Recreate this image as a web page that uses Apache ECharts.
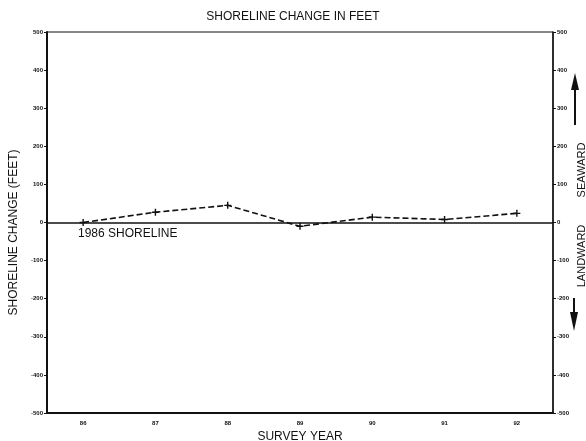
<!DOCTYPE html>
<html>
<head>
<meta charset="utf-8">
<script src="https://cdn.jsdelivr.net/npm/echarts@6/dist/echarts.min.js"></script>
<style>
  html, body { margin: 0; padding: 0; background: #fff; }
  #chart { width: 586px; height: 441px; }
</style>
</head>
<body>
<div id="chart"></div>
<script>
const years = ['86', '87', '88', '89', '90', '91', '92'];
const change = [0, 27, 45, -10, 14, 8, 24];
const yTicks = [-500, 500, 100];

const myChart = echarts.init(document.getElementById('chart'), null, { renderer: 'canvas' });

const tickLabel = { fontSize: 6, fontWeight: 'bold', color: '#111', fontFamily: 'Liberation Sans' };
const font = 'Liberation Sans';

const option = {
  animation: false,
  backgroundColor: '#fff',
  title: {
    text: 'SHORELINE CHANGE IN FEET',
    left: 'center',
    top: 6,
    textStyle: { fontSize: 12, fontWeight: 'normal', color: '#111', fontFamily: font }
  },
  grid: {
    left: 47,
    right: 33,
    top: 32,
    bottom: 28,
    outerBoundsMode: 'none',
    containLabel: false,
    show: true,
    borderColor: '#111',
    borderWidth: 1
  },
  xAxis: {
    type: 'category',
    data: years,
    boundaryGap: true,
    name: 'SURVEY YEAR',
    nameLocation: 'middle',
    nameGap: 15,
    nameTextStyle: { fontSize: 12, color: '#111', fontFamily: font },
    axisLine: { onZero: false, lineStyle: { color: '#111', width: 2 } },
    axisTick: { alignWithLabel: true, length: 3, lineStyle: { color: '#111' } },
    axisLabel: Object.assign({ margin: 7 }, tickLabel),
    splitLine: { show: false }
  },
  yAxis: [
    {
      type: 'value',
      min: yTicks[0],
      max: yTicks[1],
      interval: yTicks[2],
      name: 'SHORELINE CHANGE (FEET)',
      nameLocation: 'middle',
      nameGap: 27,
      nameTextStyle: { fontSize: 12, color: '#111', fontFamily: font, padding: [0, 0, 0, -20] },
      axisLine: { show: true, lineStyle: { color: '#111', width: 2 } },
      axisTick: { show: true, length: 3, lineStyle: { color: '#111' } },
      axisLabel: Object.assign({ margin: 4 }, tickLabel),
      splitLine: { show: false }
    },
    {
      type: 'value',
      position: 'right',
      min: yTicks[0],
      max: yTicks[1],
      interval: yTicks[2],
      axisLine: { show: true, lineStyle: { color: '#111', width: 1.5 } },
      axisTick: { show: true, length: 3, lineStyle: { color: '#111' } },
      axisLabel: Object.assign({ margin: 4 }, tickLabel),
      splitLine: { show: false }
    }
  ],
  series: [
    {
      name: 'Shoreline change',
      type: 'line',
      data: change,
      symbol: 'path://M4,0H6V4H10V6H6V10H4V6H0V4H4Z',
      symbolSize: 7,
      itemStyle: { color: '#111' },
      lineStyle: { color: '#111', width: 1.6, type: [6, 3] },
      markLine: {
        silent: true,
        symbol: 'none',
        label: { show: false },
        lineStyle: { color: '#111', width: 1.5, type: 'solid' },
        data: [{ yAxis: 0 }]
      }
    }
  ],
  graphic: [
    {
      type: 'text',
      left: 78,
      top: 228,
      style: { text: '1986 SHORELINE', fontSize: 12, fill: '#111', fontFamily: font }
    },
    {
      type: 'text',
      x: 582,
      y: 170,
      rotation: Math.PI / 2,
      style: { text: 'SEAWARD', fontSize: 11, fill: '#111', fontFamily: font, align: 'center', verticalAlign: 'middle' }
    },
    {
      type: 'text',
      x: 582,
      y: 256,
      rotation: Math.PI / 2,
      style: { text: 'LANDWARD', fontSize: 11, fill: '#111', fontFamily: font, align: 'center', verticalAlign: 'middle' }
    },
    {
      type: 'line',
      shape: { x1: 575, y1: 125, x2: 575, y2: 85 },
      style: { stroke: '#111', lineWidth: 2 }
    },
    {
      type: 'polygon',
      shape: { points: [[575, 73], [571, 90], [579, 90]] },
      style: { fill: '#111' }
    },
    {
      type: 'line',
      shape: { x1: 574, y1: 298, x2: 574, y2: 318 },
      style: { stroke: '#111', lineWidth: 2 }
    },
    {
      type: 'polygon',
      shape: { points: [[574, 331], [570, 312], [578, 312]] },
      style: { fill: '#111' }
    }
  ]
};

myChart.setOption(option);
</script>
</body>
</html>
